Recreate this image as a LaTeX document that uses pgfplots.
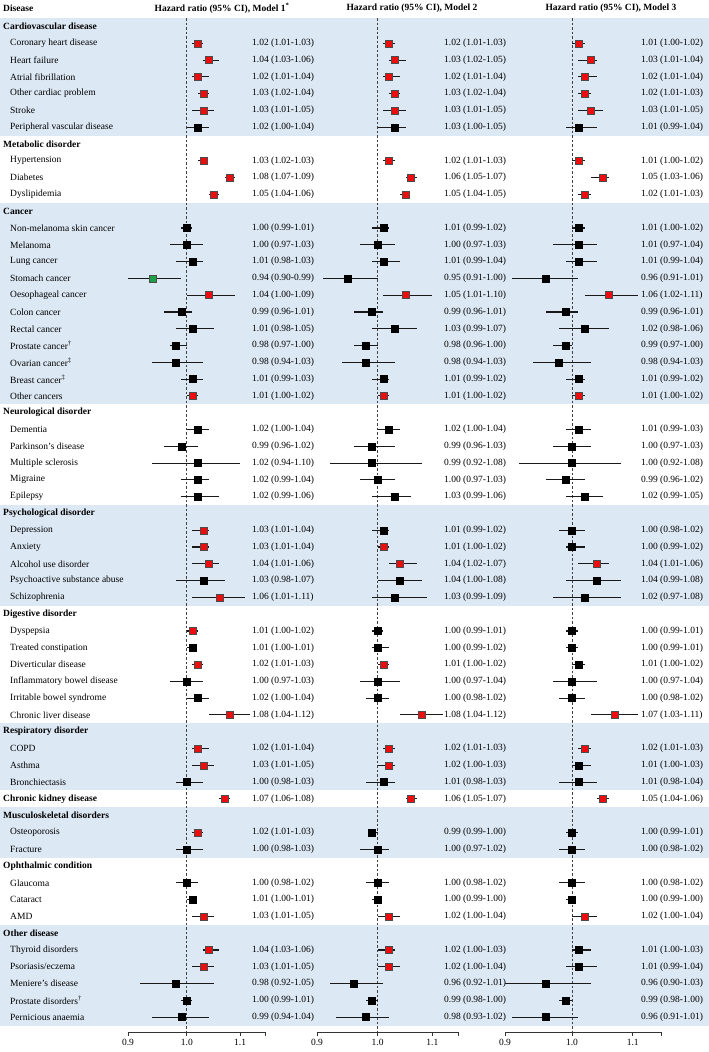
\documentclass[border=0pt]{standalone}
\usepackage{pgfplots}
\pgfplotsset{compat=1.18}
\usepackage{pgfplotstable}
\usepackage{fontspec}
\setmainfont{Liberation Serif}
\definecolor{band}{RGB}{220,232,244}
\definecolor{mred}{RGB}{236,14,14}
\definecolor{mgreen}{RGB}{30,160,70}
\newcommand{\fs}{\fontsize{9.5}{11}\selectfont}
\newcommand{\pn}[1]{\pgfmathprintnumber[fixed,fixed zerofill,precision=2,assume math mode=true]{#1}}

\pgfplotstableread{
k hrA loA hiA cA hrB loB hiB cB hrC loC hiC cC
3 1.02 1.01 1.03 r 1.02 1.01 1.03 r 1.01 1.00 1.02 r
4 1.04 1.03 1.06 r 1.03 1.02 1.05 r 1.03 1.01 1.04 r
5 1.02 1.01 1.04 r 1.02 1.01 1.04 r 1.02 1.01 1.04 r
6 1.03 1.02 1.04 r 1.03 1.02 1.04 r 1.02 1.01 1.03 r
7 1.03 1.01 1.05 r 1.03 1.01 1.05 r 1.03 1.01 1.05 r
8 1.02 1.00 1.04 k 1.03 1.00 1.05 k 1.01 0.99 1.04 k
10 1.03 1.02 1.03 r 1.02 1.01 1.03 r 1.01 1.00 1.02 r
11 1.08 1.07 1.09 r 1.06 1.05 1.07 r 1.05 1.03 1.06 r
12 1.05 1.04 1.06 r 1.05 1.04 1.05 r 1.02 1.01 1.03 r
14 1.00 0.99 1.01 k 1.01 0.99 1.02 k 1.01 1.00 1.02 k
15 1.00 0.97 1.03 k 1.00 0.97 1.03 k 1.01 0.97 1.04 k
16 1.01 0.98 1.03 k 1.01 0.99 1.04 k 1.01 0.99 1.04 k
17 0.94 0.90 0.99 g 0.95 0.91 1.00 k 0.96 0.91 1.01 k
18 1.04 1.00 1.09 r 1.05 1.01 1.10 r 1.06 1.02 1.11 r
19 0.99 0.96 1.01 k 0.99 0.96 1.01 k 0.99 0.96 1.01 k
20 1.01 0.98 1.05 k 1.03 0.99 1.07 k 1.02 0.98 1.06 k
21 0.98 0.97 1.00 k 0.98 0.96 1.00 k 0.99 0.97 1.00 k
22 0.98 0.94 1.03 k 0.98 0.94 1.03 k 0.98 0.94 1.03 k
23 1.01 0.99 1.03 k 1.01 0.99 1.02 k 1.01 0.99 1.02 k
24 1.01 1.00 1.02 r 1.01 1.00 1.02 r 1.01 1.00 1.02 r
26 1.02 1.00 1.04 k 1.02 1.00 1.04 k 1.01 0.99 1.03 k
27 0.99 0.96 1.02 k 0.99 0.96 1.03 k 1.00 0.97 1.03 k
28 1.02 0.94 1.10 k 0.99 0.92 1.08 k 1.00 0.92 1.08 k
29 1.02 0.99 1.04 k 1.00 0.97 1.03 k 0.99 0.96 1.02 k
30 1.02 0.99 1.06 k 1.03 0.99 1.06 k 1.02 0.99 1.05 k
32 1.03 1.01 1.04 r 1.01 0.99 1.02 k 1.00 0.98 1.02 k
33 1.03 1.01 1.04 r 1.01 1.00 1.02 r 1.00 0.99 1.02 k
34 1.04 1.01 1.06 r 1.04 1.02 1.07 r 1.04 1.01 1.06 r
35 1.03 0.98 1.07 k 1.04 1.00 1.08 k 1.04 0.99 1.08 k
36 1.06 1.01 1.11 r 1.03 0.99 1.09 k 1.02 0.97 1.08 k
38 1.01 1.00 1.02 r 1.00 0.99 1.01 k 1.00 0.99 1.01 k
39 1.01 1.00 1.01 k 1.00 0.99 1.02 k 1.00 0.99 1.01 k
40 1.02 1.01 1.03 r 1.01 1.00 1.02 r 1.01 1.00 1.02 k
41 1.00 0.97 1.03 k 1.00 0.97 1.04 k 1.00 0.97 1.04 k
42 1.02 1.00 1.04 k 1.00 0.98 1.02 k 1.00 0.98 1.02 k
43 1.08 1.04 1.12 r 1.08 1.04 1.12 r 1.07 1.03 1.11 r
45 1.02 1.01 1.04 r 1.02 1.01 1.03 r 1.02 1.01 1.03 r
46 1.03 1.01 1.05 r 1.02 1.00 1.03 r 1.01 1.00 1.03 k
47 1.00 0.98 1.03 k 1.01 0.98 1.03 k 1.01 0.98 1.04 k
48 1.07 1.06 1.08 r 1.06 1.05 1.07 r 1.05 1.04 1.06 r
50 1.02 1.01 1.03 r 0.99 0.99 1.00 k 1.00 0.99 1.01 k
51 1.00 0.98 1.03 k 1.00 0.97 1.02 k 1.00 0.98 1.02 k
53 1.00 0.98 1.02 k 1.00 0.98 1.02 k 1.00 0.98 1.02 k
54 1.01 1.00 1.01 k 1.00 0.99 1.00 k 1.00 0.99 1.00 k
55 1.03 1.01 1.05 r 1.02 1.00 1.04 r 1.02 1.00 1.04 r
57 1.04 1.03 1.06 r 1.02 1.00 1.03 r 1.01 1.00 1.03 k
58 1.03 1.01 1.05 r 1.02 1.00 1.04 r 1.01 0.99 1.04 k
59 0.98 0.92 1.05 k 0.96 0.92 1.01 k 0.96 0.90 1.03 k
60 1.00 0.99 1.01 k 0.99 0.98 1.00 k 0.99 0.98 1.00 k
61 0.99 0.94 1.04 k 0.98 0.93 1.02 k 0.96 0.91 1.01 k
}\data

\pgfplotsset{
  fvals/.style={only marks, mark=square*, mark size=0pt, mark options={draw=none, fill=none},
    nodes near coords={\pn{\hrv} (\pn{\lov}-\pn{\hiv})},
    every node near coord/.style={anchor=west, inner sep=0pt, font=\fs, text=black}},
  fpts/.style={scatter, only marks, mark=square*, mark size=3.5pt,
    scatter src=explicit symbolic,
    scatter/classes={r={mark=square*, draw=black!70, fill=mred},
                     k={mark=square*, draw=black, fill=black},
                     g={mark=square*, draw=black!70, fill=mgreen}},
    error bars/x dir=both, error bars/x explicit, error bars/error mark=none,
    error bars/error bar style={line width=1.1pt, draw=black!90}},
  fref/.style={line width=0.8pt, draw=black!75, dash pattern=on 2.5pt off 2pt, mark=none},
  fax/.style={anchor=south west, scale only axis, height=1014pt,
    xmin=-0.1053605, xmax=0.1397619,
    ymin=1.49315, ymax=61.8862, y dir=reverse,
    axis x line*=bottom, axis y line=none, ytick=\empty,
    xtick={-0.1053605,0,0.0953102,0.1397619},
    xticklabels={\mbox{\fs 0.9},\mbox{\fs 1.0},\mbox{\fs 1.1},{}},
    x axis line style={-, line width=0.9pt, draw=black!80},
    tick align=outside, major tick length=4pt,
    tick style={line width=0.8pt, draw=black!80},
    tick label style={font=\fs}, clip=false},
}

\begin{document}
\begin{tikzpicture}[x=1pt,y=1pt,
  grp/.style={anchor=west, inner sep=0pt, font=\fs\bfseries},
  itm/.style={anchor=west, inner sep=0pt, font=\fs}]
\useasboundingbox (0pt,0pt) rectangle (709pt,1052pt);
\begin{axis}[at={(0pt,0pt)}, anchor=south west, width=709pt, height=1052pt, scale only axis,
  xmin=0, xmax=709, ymin=0.42109, ymax=63.0774, y dir=reverse, axis lines=none, clip=false]
% background bands
\fill[band] (axis cs:0,1.5) rectangle (axis cs:709,8.5);
\fill[band] (axis cs:0,12.5) rectangle (axis cs:709,24.5);
\fill[band] (axis cs:0,30.5) rectangle (axis cs:709,36.5);
\fill[band] (axis cs:0,43.5) rectangle (axis cs:709,47.5);
\fill[band] (axis cs:0,48.5) rectangle (axis cs:709,51.5);
\fill[band] (axis cs:0,55.5) rectangle (axis cs:709,61.5);
% header
\node[grp] at (axis cs:3,0.9) {Disease};
\node[anchor=center, inner sep=0pt, font=\fs\bfseries] at (axis cs:222,0.9) {Hazard ratio (95\% CI), Model 1\textsuperscript{*}};
\node[anchor=center, inner sep=0pt, font=\fs\bfseries] at (axis cs:412,0.9) {Hazard ratio (95\% CI), Model 2};
\node[anchor=center, inner sep=0pt, font=\fs\bfseries] at (axis cs:611,0.9) {Hazard ratio (95\% CI), Model 3};
% groups
\node[grp] at (axis cs:3,2) {Cardiovascular disease};
\node[grp] at (axis cs:3,9) {Metabolic disorder};
\node[grp] at (axis cs:3,13) {Cancer};
\node[grp] at (axis cs:3,25) {Neurological disorder};
\node[grp] at (axis cs:3,31) {Psychological disorder};
\node[grp] at (axis cs:3,37) {Digestive disorder};
\node[grp] at (axis cs:3,44) {Respiratory disorder};
\node[grp] at (axis cs:3,48) {Chronic kidney disease};
\node[grp] at (axis cs:3,49) {Musculoskeletal disorders};
\node[grp] at (axis cs:3,52) {Ophthalmic condition};
\node[grp] at (axis cs:3,56) {Other disease};
% items
\node[itm] at (axis cs:10,3) {Coronary heart disease};
\node[itm] at (axis cs:10,4) {Heart failure};
\node[itm] at (axis cs:10,5) {Atrial fibrillation};
\node[itm] at (axis cs:10,6) {Other cardiac problem};
\node[itm] at (axis cs:10,7) {Stroke};
\node[itm] at (axis cs:10,8) {Peripheral vascular disease};
\node[itm] at (axis cs:10,10) {Hypertension};
\node[itm] at (axis cs:10,11) {Diabetes};
\node[itm] at (axis cs:10,12) {Dyslipidemia};
\node[itm] at (axis cs:10,14) {Non-melanoma skin cancer};
\node[itm] at (axis cs:10,15) {Melanoma};
\node[itm] at (axis cs:10,16) {Lung cancer};
\node[itm] at (axis cs:10,17) {Stomach cancer};
\node[itm] at (axis cs:10,18) {Oesophageal cancer};
\node[itm] at (axis cs:10,19) {Colon cancer};
\node[itm] at (axis cs:10,20) {Rectal cancer};
\node[itm] at (axis cs:10,21) {Prostate cancer\textsuperscript{†}};
\node[itm] at (axis cs:10,22) {Ovarian cancer\textsuperscript{‡}};
\node[itm] at (axis cs:10,23) {Breast cancer\textsuperscript{‡}};
\node[itm] at (axis cs:10,24) {Other cancers};
\node[itm] at (axis cs:10,26) {Dementia};
\node[itm] at (axis cs:10,27) {Parkinson’s disease};
\node[itm] at (axis cs:10,28) {Multiple sclerosis};
\node[itm] at (axis cs:10,29) {Migraine};
\node[itm] at (axis cs:10,30) {Epilepsy};
\node[itm] at (axis cs:10,32) {Depression};
\node[itm] at (axis cs:10,33) {Anxiety};
\node[itm] at (axis cs:10,34) {Alcohol use disorder};
\node[itm] at (axis cs:10,35) {Psychoactive substance abuse};
\node[itm] at (axis cs:10,36) {Schizophrenia};
\node[itm] at (axis cs:10,38) {Dyspepsia};
\node[itm] at (axis cs:10,39) {Treated constipation};
\node[itm] at (axis cs:10,40) {Diverticular disease};
\node[itm] at (axis cs:10,41) {Inflammatory bowel disease};
\node[itm] at (axis cs:10,42) {Irritable bowel syndrome};
\node[itm] at (axis cs:10,43) {Chronic liver disease};
\node[itm] at (axis cs:10,45) {COPD};
\node[itm] at (axis cs:10,46) {Asthma};
\node[itm] at (axis cs:10,47) {Bronchiectasis};
\node[itm] at (axis cs:10,50) {Osteoporosis};
\node[itm] at (axis cs:10,51) {Fracture};
\node[itm] at (axis cs:10,53) {Glaucoma};
\node[itm] at (axis cs:10,54) {Cataract};
\node[itm] at (axis cs:10,55) {AMD};
\node[itm] at (axis cs:10,57) {Thyroid disorders};
\node[itm] at (axis cs:10,58) {Psoriasis/eczema};
\node[itm] at (axis cs:10,59) {Meniere’s disease};
\node[itm] at (axis cs:10,60) {Prostate disorders\textsuperscript{†}};
\node[itm] at (axis cs:10,61) {Pernicious anaemia};
% value columns
\addplot[fvals, visualization depends on={\thisrow{hrA}\as\hrv},
  visualization depends on={\thisrow{loA}\as\lov},
  visualization depends on={\thisrow{hiA}\as\hiv}] table[x expr=252, y=k] {\data};
\addplot[fvals, visualization depends on={\thisrow{hrB}\as\hrv},
  visualization depends on={\thisrow{loB}\as\lov},
  visualization depends on={\thisrow{hiB}\as\hiv}] table[x expr=444, y=k] {\data};
\addplot[fvals, visualization depends on={\thisrow{hrC}\as\hrv},
  visualization depends on={\thisrow{loC}\as\lov},
  visualization depends on={\thisrow{hiC}\as\hiv}] table[x expr=641, y=k] {\data};
\end{axis}

% Model 1 (log scale: x = ln HR)
\begin{axis}[fax, at={(128pt,20pt)}, width=137pt]
\addplot[fref] coordinates {(0,1.49315) (0,61.8862)};
\addplot[fpts] table[x expr={ln(\thisrow{hrA})}, y=k, meta=cA,
  x error plus expr={ln(\thisrow{hiA})-ln(\thisrow{hrA})},
  x error minus expr={ln(\thisrow{hrA})-ln(\thisrow{loA})}] {\data};
\end{axis}
% Model 2
\begin{axis}[fax, at={(317pt,20pt)}, width=141pt]
\addplot[fref] coordinates {(0,1.49315) (0,61.8862)};
\addplot[fpts] table[x expr={ln(\thisrow{hrB})}, y=k, meta=cB,
  x error plus expr={ln(\thisrow{hiB})-ln(\thisrow{hrB})},
  x error minus expr={ln(\thisrow{hrB})-ln(\thisrow{loB})}] {\data};
\end{axis}
% Model 3
\begin{axis}[fax, at={(505pt,20pt)}, width=156pt]
\addplot[fref] coordinates {(0,1.49315) (0,61.8862)};
\addplot[fpts] table[x expr={ln(\thisrow{hrC})}, y=k, meta=cC,
  x error plus expr={ln(\thisrow{hiC})-ln(\thisrow{hrC})},
  x error minus expr={ln(\thisrow{hrC})-ln(\thisrow{loC})}] {\data};
\end{axis}
\end{tikzpicture}
\end{document}
